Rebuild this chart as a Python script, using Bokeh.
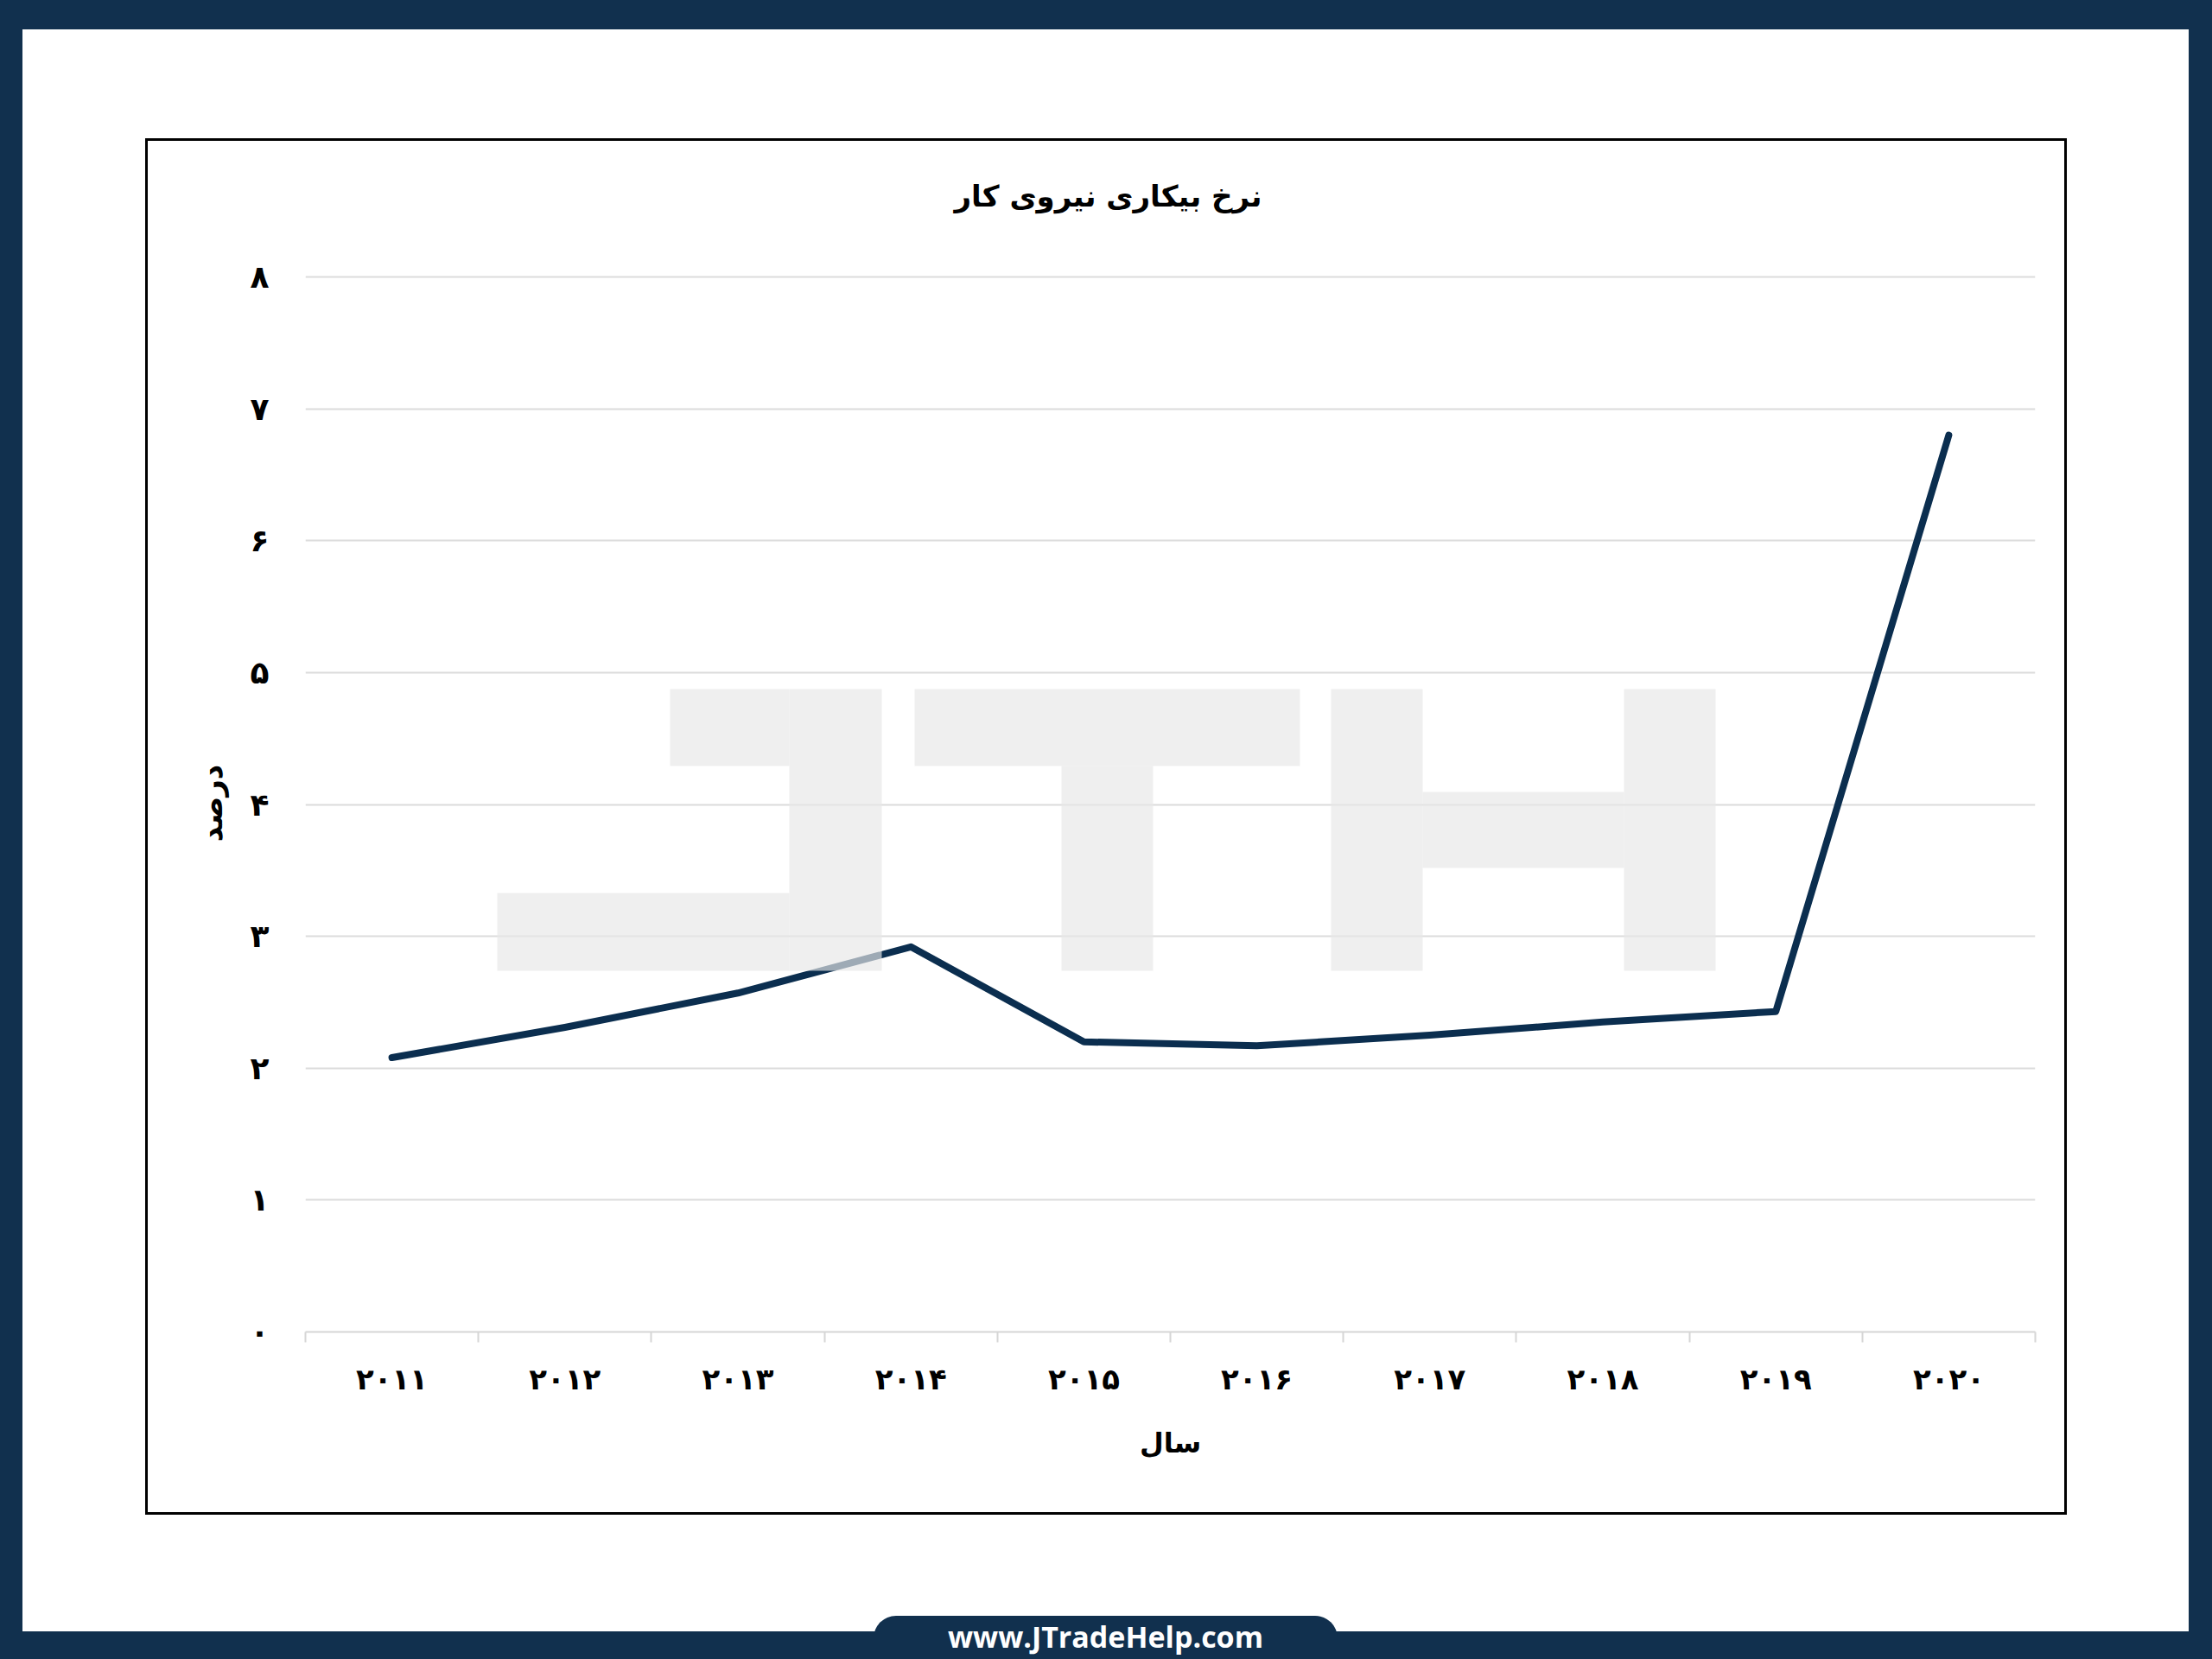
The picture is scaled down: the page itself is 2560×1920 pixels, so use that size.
from bokeh.plotting import figure
from bokeh.layouts import column
from bokeh.models import (Range1d, FixedTicker, BoxAnnotation, Label,
                          CustomJSTickFormatter, Div)
from bokeh.embed import file_html
from bokeh.resources import INLINE

# ---------------- data ----------------
years = ["2011", "2012", "2013", "2014", "2015", "2016", "2017", "2018", "2019", "2020"]
year_labels_fa = ["۲۰۱۱", "۲۰۱۲", "۲۰۱۳", "۲۰۱۴", "۲۰۱۵", "۲۰۱۶", "۲۰۱۷", "۲۰۱۸", "۲۰۱۹", "۲۰۲۰"]
unemployment_rate = [2.08, 2.31, 2.57, 2.92, 2.20, 2.17, 2.25, 2.35, 2.43, 6.80]
y_ticks = [0, 1, 2, 3, 4, 5, 6, 7, 8]
y_tick_labels_fa = ["۰", "۱", "۲", "۳", "۴", "۵", "۶", "۷", "۸"]
title_text = "نرخ بیکاری نیروی کار"
x_title = "سال"
y_title = "درصد"
site_text = "www.JTradeHelp.com"

# ---------------- layout / style ----------------
W = 2560          # total width
FIG_H = 1870      # figure height; a footer strip sits below it
FOOT_H = 50
NAVY = "#11304e"
LINE = "#0b2e4f"
FA_FONT = "DejaVu Sans"

n = len(years)
xs = [i + 0.5 for i in range(n)]

p = figure(width=W, height=FIG_H, output_backend="svg", toolbar_location=None,
           x_range=Range1d(0, n), y_range=Range1d(0, 8.02),
           min_border_left=353, min_border_right=205,
           min_border_top=317, min_border_bottom=329)
p.border_fill_color = None          # transparent: CSS background below shows the frame
p.background_fill_color = "white"
p.outline_line_color = None

# page decoration (navy frame bars + black chart box) as CSS background layers
def _bar(x, y, w, h, c):
    return f"linear-gradient({c},{c}) {x} {y} / {w} {h} no-repeat"

layers = [
    _bar("0px", "0px", "100%", "34px", NAVY),          # top navy band
    _bar("0px", "0px", "26px", "100%", NAVY),          # left navy band
    _bar("100%", "0px", "27px", "100%", NAVY),         # right navy band
    _bar("168px", "160px", "2224px", "3px", "#000"),   # chart box top
    _bar("168px", "1750px", "2224px", "3px", "#000"),  # chart box bottom
    _bar("168px", "160px", "3px", "1593px", "#000"),   # chart box left
    _bar("2389px", "160px", "3px", "1593px", "#000"),  # chart box right
]
p.styles = {"background": ", ".join(layers) + ", #ffffff"}

# grid
p.xgrid.visible = False
p.ygrid.ticker = FixedTicker(ticks=y_ticks)
p.ygrid.grid_line_color = "#dcdcdc"
p.ygrid.grid_line_width = 2

# x axis
xa = p.xaxis[0]
xa.ticker = FixedTicker(ticks=xs, minor_ticks=list(range(n + 1)))
xa.formatter = CustomJSTickFormatter(args=dict(labels=year_labels_fa),
                                     code="return labels[Math.round(tick - 0.5)];")
xa.axis_line_color = "#d6d6d6"
xa.axis_line_width = 2
xa.major_tick_line_color = None
xa.major_tick_in = 0
xa.major_tick_out = 0
xa.minor_tick_line_color = "#d6d6d6"
xa.minor_tick_line_width = 2
xa.minor_tick_in = 0
xa.minor_tick_out = 12
xa.major_label_standoff = 22
xa.major_label_text_font = FA_FONT
xa.major_label_text_font_style = "bold"
xa.major_label_text_font_size = "34px"
xa.major_label_text_color = "black"
xa.axis_label = x_title
xa.axis_label_text_font = FA_FONT
xa.axis_label_text_font_style = "bold"
xa.axis_label_text_font_size = "32px"
xa.axis_label_text_color = "black"
xa.axis_label_standoff = 32

# y axis
ya = p.yaxis[0]
ya.ticker = FixedTicker(ticks=y_ticks)
ya.formatter = CustomJSTickFormatter(args=dict(labels=y_tick_labels_fa),
                                     code="return labels[Math.round(tick)];")
ya.axis_line_color = None
ya.major_tick_line_color = None
ya.minor_tick_line_color = None
ya.major_tick_in = 0
ya.major_tick_out = 0
ya.major_label_standoff = 42
ya.major_label_text_font = FA_FONT
ya.major_label_text_font_style = "bold"
ya.major_label_text_font_size = "36px"
ya.major_label_text_color = "black"
ya.major_label_text_baseline = "alphabetic"
ya.axis_label = y_title
ya.axis_label_text_font = FA_FONT
ya.axis_label_text_font_style = "bold"
ya.axis_label_text_font_size = "34px"
ya.axis_label_text_color = "black"
ya.axis_label_standoff = 22

# data line
p.line(xs, unemployment_rate, line_color=LINE, line_width=8,
       line_cap="round", line_join="round")

# watermark "JTH" blocks (decoration, canvas px), drawn over the line
WM_BLOCKS = [
    (775, 913, 797, 886), (913, 1020, 797, 1123), (575, 913, 1033, 1123),    # J
    (1058, 1504, 797, 886), (1228, 1334, 886, 1123),                          # T
    (1540, 1646, 797, 1123), (1879, 1985, 797, 1123), (1646, 1879, 916, 1004) # H
]
for l, r, t, b in WM_BLOCKS:
    p.add_layout(BoxAnnotation(left=l, right=r, top=t, bottom=b,
                               left_units="canvas", right_units="canvas",
                               top_units="canvas", bottom_units="canvas",
                               fill_color="#e7e7e7", fill_alpha=0.67,
                               line_color=None, level="annotation"))

# title
p.add_layout(Label(x=1282, y=226, x_units="canvas", y_units="canvas",
                   text=title_text, text_align="center", text_baseline="middle",
                   text_font=FA_FONT, text_font_style="bold",
                   text_font_size="34px", text_color="black"), "above")

# footer strip: bottom navy band with the site tab
footer_html = f"""
<div style="position:relative;width:{W}px;height:{FOOT_H}px;background:#ffffff;overflow:hidden;">
  <div style="position:absolute;left:0;top:0;width:26px;height:{FOOT_H}px;background:{NAVY};"></div>
  <div style="position:absolute;right:0;top:0;width:27px;height:{FOOT_H}px;background:{NAVY};"></div>
  <div style="position:absolute;left:0;top:18px;width:{W}px;height:32px;background:{NAVY};"></div>
  <div style="position:absolute;left:1011px;top:0;width:537px;height:{FOOT_H}px;background:{NAVY};
              border-radius:26px 26px 0 0;color:#ffffff;font-family:'Open Sans';font-weight:bold;
              font-size:34px;line-height:48px;text-align:center;white-space:nowrap;">{site_text}</div>
</div>
"""
footer = Div(text=footer_html, width=W, height=FOOT_H, margin=(0, 0, 0, 0))

layout = column(p, footer, spacing=0)

open("out.html", "w").write(file_html(layout, INLINE))
